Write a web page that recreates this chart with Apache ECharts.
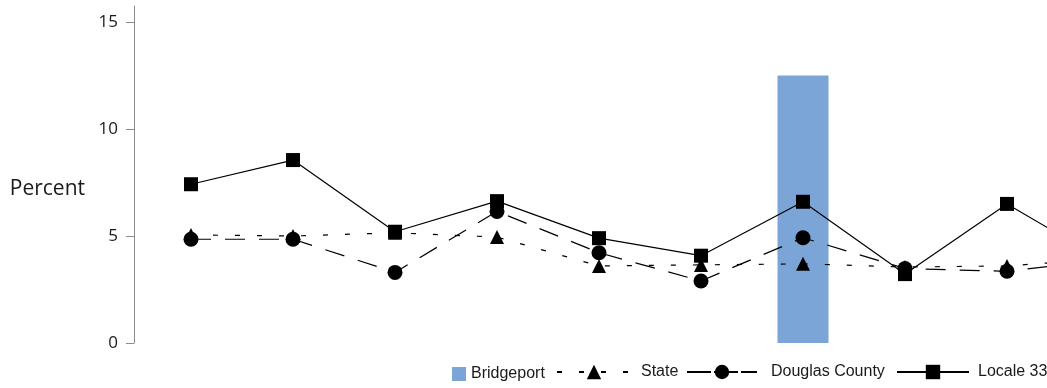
<!DOCTYPE html>
<html>
<head>
<meta charset="utf-8">
<script src="https://cdn.jsdelivr.net/npm/echarts@6/dist/echarts.min.js"></script>
<style>html,body{margin:0;padding:0;background:#fff;}#c{width:1047px;height:388px;}</style>
</head>
<body>
<div id="c"></div>
<script>
const categories = ['1','2','3','4','5','6','7','8','9','10'];
const bridgeport = [null, null, null, null, null, null, 12.5, null, null, null];
const state = [5.05, 5.0, 5.15, 4.95, 3.6, 3.65, 3.7, 3.55, 3.6, 3.95];
const douglas = [4.85, 4.85, 3.3, 6.15, 4.22, 2.9, 4.92, 3.48, 3.35, 3.9];
const locale33 = [7.42, 8.55, 5.2, 6.63, 4.9, 4.08, 6.6, 3.22, 6.5, 3.7];
const yTicks = [0, 5, 10, 15];

const chart = echarts.init(document.getElementById('c'));
const textColor = '#1a1a1a';
const legendFont = { fontFamily: 'Liberation Sans', fontSize: 16, color: textColor };
function font(pad) { return Object.assign({ padding: pad }, legendFont); }
chart.setOption({
  animation: false,
  grid: { left: 140, top: 6, width: 1020, height: 337, outerBoundsMode: 'none', containLabel: false },
  xAxis: {
    type: 'category', data: categories, boundaryGap: true,
    axisLine: { show: false }, axisTick: { show: false }, axisLabel: { show: false }
  },
  yAxis: {
    type: 'value', min: 0, max: 15.75, offset: 6,
    name: 'Percent', nameLocation: 'middle', nameRotate: 0, nameGap: 49,
    nameTextStyle: { fontFamily: 'Open Sans', fontSize: 21, color: textColor, align: 'right', verticalAlign: 'top', padding: [4, 0, 0, 0] },
    axisLine: { show: true, lineStyle: { color: '#8c8c8c', width: 1 } },
    axisTick: { show: true, length: 8, customValues: yTicks, lineStyle: { color: '#8c8c8c' } },
    axisLabel: { customValues: yTicks, fontFamily: 'Open Sans', fontSize: 17, color: textColor, margin: 16 },
    splitLine: { show: false }
  },
  legend: [
    { left: 452, top: 366, padding: 0, itemWidth: 14, itemHeight: 14, textStyle: legendFont,
      data: [{ name: 'Bridgeport', icon: 'rect' }] },
    { left: 556, top: 364, padding: 0, itemWidth: 74, itemHeight: 18, textStyle: font([0, 0, 0, 5]),
      data: ['State'] },
    { left: 686, top: 364, padding: 0, itemWidth: 70, itemHeight: 18, textStyle: font([0, 0, 0, 9]),
      data: [{ name: 'Douglas County', lineStyle: { type: [24, 3] } }] },
    { left: 896, top: 364, padding: 0, itemWidth: 72, itemHeight: 18, textStyle: font([0, 0, 0, 4]),
      data: ['Locale 33'] }
  ],
  series: [
    {
      name: 'Bridgeport', type: 'bar', data: bridgeport, barWidth: 51,
      itemStyle: { color: '#7ca5d7' }
    },
    {
      name: 'State', type: 'line', data: state, symbol: 'triangle', symbolSize: 14,
      itemStyle: { color: '#000' },
      lineStyle: { color: '#000', width: 1.2, type: [5, 17] }, z: 3
    },
    {
      name: 'Douglas County', type: 'line', data: douglas, symbol: 'circle', symbolSize: 15,
      itemStyle: { color: '#000' },
      lineStyle: { color: '#000', width: 1.2, type: [20, 14] }, z: 4
    },
    {
      name: 'Locale 33', type: 'line', data: locale33, symbol: 'rect', symbolSize: 14,
      itemStyle: { color: '#000' },
      lineStyle: { color: '#000', width: 1.2, type: 'solid' }, z: 5
    }
  ]
});
</script>
</body>
</html>
